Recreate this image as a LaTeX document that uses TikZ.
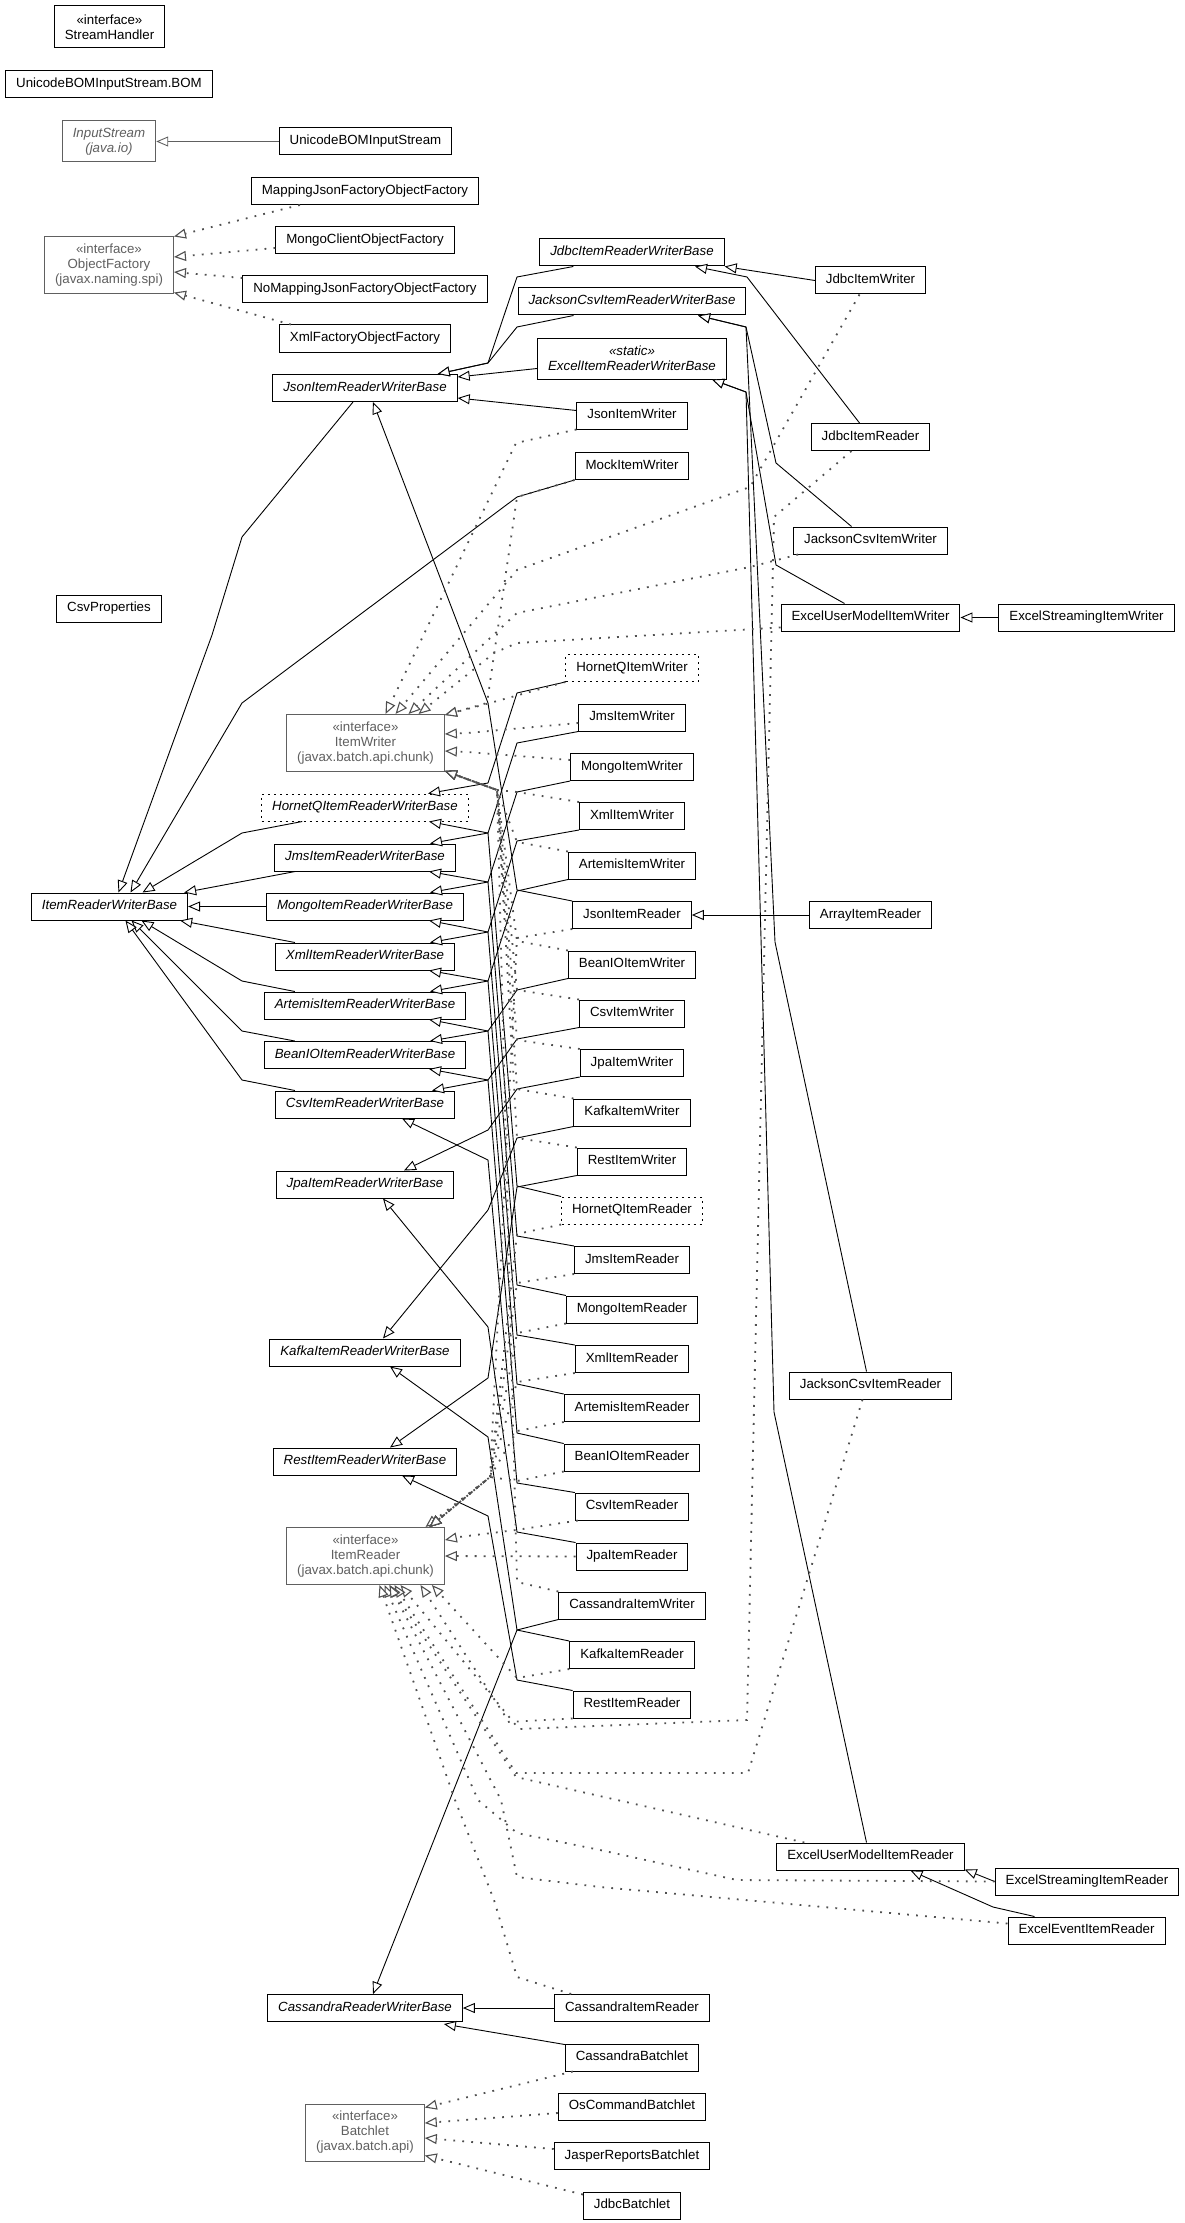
\documentclass[tikz,border=0pt]{standalone}
\usepackage{fontspec}
\setmainfont{Liberation Sans}
\usetikzlibrary{arrows.meta,calc}
\definecolor{extgray}{HTML}{606060}
\definecolor{implgray}{HTML}{505050}
\newcommand{\umlfont}{\fontsize{13.3}{15}\selectfont}

\begin{document}
\begin{tikzpicture}[
    x=1pt, y=-1pt,
    >={Triangle[fill=white, length=12pt, width=10pt]},
    uml/.style={
        draw=black, line width=1pt, fill=white, font=\umlfont,
        inner xsep=10.5pt, inner ysep=0pt, align=center
    },
    cls/.style={uml, minimum height=27pt, text height=9.6pt, text depth=2.8pt},
    abscls/.style={cls, font=\umlfont\itshape},
    hqcls/.style={dash pattern=on 2pt off 4pt},
    iface/.style={uml, draw=extgray, text=extgray, minimum height=57pt},
    extends/.style={->, line width=0.9pt},
    impl/.style={
        -{Triangle[fill=white, length=12pt, width=10pt, line width=1.1pt]},
        draw=implgray, line width=1.8pt, dash pattern=on 1.8pt off 7.2pt
    },
]
  \useasboundingbox (0,0) rectangle (1184,2223);

  %––– Column 1 –––––––––––––––––––––––––––––––––––––––––––––
  \node (sh)   [uml, minimum height=42pt] at (109.5,27) {«interface»\\StreamHandler};
  \node (bom)  [cls] at (109,84.5) {UnicodeBOMInputStream.BOM};
  \node (ins)  [uml, draw=extgray, text=extgray, font=\umlfont\itshape,
                minimum height=41pt] at (109,141.5) {InputStream\\(java.io)};
  \node (objf) [iface] at (109,265.5) {«interface»\\ObjectFactory\\(javax.naming.spi)};
  \node (csvp) [cls] at (109,608.5) {CsvProperties};
  \node (irwb) [abscls] at (109.5,906.5) {ItemReaderWriterBase};

  %––– Column 2 –––––––––––––––––––––––––––––––––––––––––––––
  \node (ubis)   [cls] at (365.5,141.5) {UnicodeBOMInputStream};
  \node (mjof)   [cls] at (365,191) {MappingJsonFactoryObjectFactory};
  \node (mcof)   [cls] at (365,240.5) {MongoClientObjectFactory};
  \node (nmjof)  [cls] at (365,289.5) {NoMappingJsonFactoryObjectFactory};
  \node (xfof)   [cls] at (365,338.5) {XmlFactoryObjectFactory};
  \node (jsonb)  [abscls] at (365,388) {JsonItemReaderWriterBase};
  \node (iw)     [iface] at (365.5,743) {«interface»\\ItemWriter\\(javax.batch.api.chunk)};
  \node (hqb)    [abscls, hqcls] at (365,807.5) {HornetQItemReaderWriterBase};
  \node (jmsb)   [abscls] at (365,857.5) {JmsItemReaderWriterBase};
  \node (mongob) [abscls] at (365,906.5) {MongoItemReaderWriterBase};
  \node (xmlb)   [abscls] at (365,956.5) {XmlItemReaderWriterBase};
  \node (artb)   [abscls] at (365,1005.5) {ArtemisItemReaderWriterBase};
  \node (beanb)  [abscls] at (365,1055) {BeanIOItemReaderWriterBase};
  \node (csvb)   [abscls] at (365,1104.5) {CsvItemReaderWriterBase};
  \node (jpab)   [abscls] at (365,1184.5) {JpaItemReaderWriterBase};
  \node (kafb)   [abscls] at (365,1352.5) {KafkaItemReaderWriterBase};
  \node (restb)  [abscls] at (365,1461.5) {RestItemReaderWriterBase};
  \node (ir)     [iface] at (365.5,1556) {«interface»\\ItemReader\\(javax.batch.api.chunk)};
  \node (casb)   [abscls] at (365,2008) {CassandraReaderWriterBase};
  \node (bl)     [iface] at (365,2132.5) {«interface»\\Batchlet\\(javax.batch.api)};

  %––– Column 3 –––––––––––––––––––––––––––––––––––––––––––––
  \node (jdbcb)  [abscls] at (632,252.5) {JdbcItemReaderWriterBase};
  \node (jcsvb)  [abscls] at (632,301.5) {JacksonCsvItemReaderWriterBase};
  \node (excelb) [uml, font=\umlfont\itshape, minimum height=41pt]
                 at (632,358.5) {«static»\\ExcelItemReaderWriterBase};
  \node (jsonw)  [cls] at (632,415.5) {JsonItemWriter};
  \node (mockw)  [cls] at (632,466) {MockItemWriter};
  \node (hqw)    [cls, hqcls] at (632,668) {HornetQItemWriter};
  \node (jmsw)   [cls] at (632,717.5) {JmsItemWriter};
  \node (mongow) [cls] at (632,767) {MongoItemWriter};
  \node (xmlw)   [cls] at (632,816) {XmlItemWriter};
  \node (artw)   [cls] at (632,865.5) {ArtemisItemWriter};
  \node (jsonr)  [cls] at (632,915) {JsonItemReader};
  \node (beanw)  [cls] at (632,964.5) {BeanIOItemWriter};
  \node (csvw)   [cls] at (632,1013.5) {CsvItemWriter};
  \node (jpaw)   [cls] at (632,1063) {JpaItemWriter};
  \node (kafw)   [cls] at (632,1112.5) {KafkaItemWriter};
  \node (restw)  [cls] at (632,1161.5) {RestItemWriter};
  \node (hqr)    [cls, hqcls] at (632,1210.5) {HornetQItemReader};
  \node (jmsr)   [cls] at (632,1260) {JmsItemReader};
  \node (mongor) [cls] at (632,1309.5) {MongoItemReader};
  \node (xmlr)   [cls] at (632,1359) {XmlItemReader};
  \node (artr)   [cls] at (632,1408) {ArtemisItemReader};
  \node (beanr)  [cls] at (632,1457.5) {BeanIOItemReader};
  \node (csvr)   [cls] at (632,1506.5) {CsvItemReader};
  \node (jpar)   [cls] at (632,1556.5) {JpaItemReader};
  \node (casw)   [cls] at (632,1605.5) {CassandraItemWriter};
  \node (kafr)   [cls] at (632,1655) {KafkaItemReader};
  \node (restr)  [cls] at (632,1704.5) {RestItemReader};
  \node (casr)   [cls] at (632,2008) {CassandraItemReader};
  \node (casbl)  [cls] at (632,2057.5) {CassandraBatchlet};
  \node (osbl)   [cls] at (632,2106.5) {OsCommandBatchlet};
  \node (jrbl)   [cls] at (632,2156) {JasperReportsBatchlet};
  \node (jdbcbl) [cls] at (632,2205.5) {JdbcBatchlet};

  %––– Columns 4 and 5 ––––––––––––––––––––––––––––––––––––––
  \node (jdbcw) [cls] at (870.5,280.5) {JdbcItemWriter};
  \node (jdbcr) [cls] at (870.5,437) {JdbcItemReader};
  \node (jcsvw) [cls] at (870.5,540.5) {JacksonCsvItemWriter};
  \node (eumw)  [cls] at (870.5,617.5) {ExcelUserModelItemWriter};
  \node (arrr)  [cls] at (870.5,915) {ArrayItemReader};
  \node (jcsvr) [cls] at (870.5,1385.5) {JacksonCsvItemReader};
  \node (eumr)  [cls] at (870.5,1856.5) {ExcelUserModelItemReader};
  \node (esw)   [cls] at (1086.5,617.5) {ExcelStreamingItemWriter};
  \node (esr)   [cls] at (1087,1881.5) {ExcelStreamingItemReader};
  \node (eer)   [cls] at (1086.5,1930.5) {ExcelEventItemReader};

  %––– Generalisations ––––––––––––––––––––––––––––––––––––––
  \draw[extends, draw=extgray] (ubis) -- (ins);
  \draw[extends] (jdbcw.west) -- (jdbcb.south east);
  \draw[extends] ($(jdbcr.north)+(-11,0)$) -- (747,277) -- ($(jdbcb.south)+(63,0)$);
  \draw[extends] ($(jdbcb.south west)+(34,0)$) -- (517,277) -- (488,363) -- ($(jsonb.north east)+(-20,0)$);
  \draw[extends] ($(jcsvb.south west)+(56,0)$) -- (517,327) -- (488,363) -- ($(jsonb.north east)+(-20,0)$);
  \draw[extends] ($(excelb.west)+(0,10)$) -- ($(jsonb.east)+(0,-11)$);
  \draw[extends] ($(jsonw.west)+(0,-5)$) -- ($(jsonb.east)+(0,10)$);
  \draw[extends] ($(jcsvw.north)+(-19,0)$) -- (776,463) -- (746,327) -- ($(jcsvb.south)+(66,0)$);
  \draw[extends] ($(jcsvr.north)+(-4,0)$) -- (775,942) -- (746,327) -- ($(jcsvb.south)+(66,0)$);
  \draw[extends] ($(eumw.north)+(-26,0)$) -- (776,565) -- (746,392) -- ($(excelb.south)+(80,0)$);
  \draw[extends] ($(eumr.north)+(-4,0)$) -- (774,1412) -- (746,392) -- ($(excelb.south)+(80,0)$);
  \draw[extends] (esw) -- (eumw);
  \draw[extends] (arrr) -- (jsonr);
  \draw[extends] (esr.west) -- ($(eumr.east)+(0,13)$);
  \draw[extends] ($(eer.north)+(-52,0)$) -- (993,1907) -- ($(eumr.south)+(40,0)$);

  % bases -> ItemReaderWriterBase
  \draw[extends] ($(jsonb.south)+(-12,0)$) -- (242,537) -- (212,635) -- ($(irwb.north)+(9,0)$);
  \draw[extends] (mockw.south west) -- (517,497) -- (242,703) -- ($(irwb.north)+(21,0)$);
  \draw[extends] ($(hqb.south west)+(41,0)$) -- (242,833) -- ($(irwb.north)+(33,0)$);
  \draw[extends] ($(jmsb.south west)+(21,0)$) -- ($(irwb.north east)+(-4,0)$);
  \draw[extends] (mongob) -- (irwb);
  \draw[extends] ($(xmlb.north west)+(20,0)$) -- ($(irwb.south east)+(-8,0)$);
  \draw[extends] ($(artb.north west)+(31,0)$) -- (242,981) -- ($(irwb.south)+(32,0)$);
  \draw[extends] ($(beanb.north west)+(31,0)$) -- (242,1031) -- ($(irwb.south)+(22,0)$);
  \draw[extends] ($(csvb.north west)+(20,0)$) -- (242,1080) -- ($(irwb.south)+(16,0)$);

  % writers -> bases
  \draw[extends] (hqw.south west) -- (517,693) -- (488,783) -- ($(hqb.north)+(63,0)$);
  \draw[extends] (jmsw.south west) -- (517,743) -- (488,833) -- ($(jmsb.north)+(65,0)$);
  \draw[extends] (mongow.south west) -- (517,792) -- (488,882) -- ($(mongob.north)+(65,0)$);
  \draw[extends] (xmlw.south west) -- (517,841) -- (488,932) -- ($(xmlb.north)+(65,0)$);
  \draw[extends] (artw.south west) -- (517,891) -- (488,981) -- ($(artb.north)+(65,0)$);
  \draw[extends] (beanw.south west) -- (517,990) -- (488,1031) -- ($(beanb.north)+(65,0)$);
  \draw[extends] (csvw.south west) -- (517,1039) -- (488,1080) -- ($(csvb.north)+(67,0)$);
  \draw[extends] (jpaw.south west) -- (517,1089) -- (488,1130) -- ($(jpab.north)+(39,0)$);
  \draw[extends] (kafw.south west) -- (517,1138) -- (488,1210) -- ($(kafb.north)+(18,0)$);
  \draw[extends] (restw.south west) -- (517,1187) -- (488,1378) -- ($(restb.north)+(25,0)$);
  \draw[extends] (casw.south west) -- (517,1630) -- ($(casb.north)+(8,0)$);

  % readers -> bases
  \draw[extends] (jsonr.north west) -- (517,890) -- (488,703) -- ($(jsonb.south)+(8,0)$);
  \draw[extends] (hqr.north west) -- (517,1186) -- (488,833) -- ($(hqb.south)+(64,0)$);
  \draw[extends] (jmsr.north west) -- (517,1236) -- (488,882) -- ($(jmsb.south)+(64,0)$);
  \draw[extends] (mongor.north west) -- (517,1285) -- (488,932) -- ($(mongob.south)+(64,0)$);
  \draw[extends] (xmlr.north west) -- (517,1335) -- (488,981) -- ($(xmlb.south)+(64,0)$);
  \draw[extends] (artr.north west) -- (517,1384) -- (488,1031) -- ($(artb.south)+(64,0)$);
  \draw[extends] (beanr.north west) -- (517,1433) -- (488,1080) -- ($(beanb.south)+(64,0)$);
  \draw[extends] (csvr.north west) -- (517,1483) -- (488,1160) -- ($(csvb.south)+(37,0)$);
  \draw[extends] (jpar.north west) -- (517,1532) -- (488,1327) -- ($(jpab.south)+(18,0)$);
  \draw[extends] (kafr.north west) -- (517,1630) -- (488,1437) -- ($(kafb.south)+(25,0)$);
  \draw[extends] (restr.north west) -- (517,1680) -- (488,1516) -- ($(restb.south)+(37,0)$);
  \draw[extends] (casr) -- (casb);
  \draw[extends] ($(casbl.north west)+(0,1)$) -- ($(casb.south east)+(-19,2)$);

  %––– Realisations –––––––––––––––––––––––––––––––––––––––––
  \draw[impl] ($(mjof.south west)+(49,0)$) -- (objf.north east);
  \draw[impl] ($(mcof.west)+(0,7.5)$) -- ($(objf.east)+(0,-8.5)$);
  \draw[impl] ($(nmjof.west)+(0,-11.5)$) -- ($(objf.east)+(0,6.5)$);
  \draw[impl] ($(xfof.north west)+(12,0)$) -- ($(objf.south east)+(0,-2)$);

  % ItemWriter
  \draw[impl] (jsonw.south west) -- (516,443) -- ($(iw.north)+(20,0)$);
  \draw[impl] ($(jdbcw.south)+(-11,0)$) -- (750,487) -- (517,570) -- ($(iw.north)+(30,0)$);
  \draw[impl] ($(jcsvw.south west)+(5,0)$) -- (750,567) -- (517,613) -- ($(iw.north)+(43,0)$);
  \draw[impl] ($(eumw.south west)+(0,-4)$) -- (517,643) -- (494,653) -- ($(iw.north)+(53,0)$);
  \draw[impl] (mockw.south west) -- (517,497) -- (487,703) -- ($(iw.north east)+(0,1)$);
  \draw[impl] (hqw.south west) -- (490,703) -- ($(iw.north east)+(0,1)$);
  \draw[impl] ($(jmsw.west)+(0,5.5)$) -- (467,733) -- ($(iw.east)+(0,-9)$);
  \draw[impl] ($(mongow.west)+(0,-7)$) -- (467,752) -- ($(iw.east)+(0,8)$);
  \draw[impl] (xmlw.north west) -- (517,792) -- (497,790) -- ($(iw.south east)+(0,-1)$);
  \draw[impl] (artw.north west) -- (517,842) -- (497,790) -- ($(iw.south east)+(0,-1)$);
  \draw[impl] (beanw.north west) -- (517,941) -- (497,790) -- ($(iw.south east)+(0,-1)$);
  \draw[impl] (csvw.north west) -- (517,990) -- (497,790) -- ($(iw.south east)+(0,-1)$);
  \draw[impl] (jpaw.north west) -- (517,1040) -- (497,790) -- ($(iw.south east)+(0,-1)$);
  \draw[impl] (kafw.north west) -- (517,1089) -- (497,790) -- ($(iw.south east)+(0,-1)$);
  \draw[impl] (restw.north west) -- (517,1138) -- (497,790) -- ($(iw.south east)+(0,-1)$);
  \draw[impl] (casw.north west) -- (517,1582) -- (497,790) -- ($(iw.south east)+(0,-1)$);

  % ItemReader
  \draw[impl] (jsonr.south west) -- (517,938) -- (490,1477) -- ($(ir.north)+(60,0)$);
  \draw[impl] (hqr.south west) -- (517,1234) -- (490,1477) -- ($(ir.north)+(64,0)$);
  \draw[impl] (jmsr.south west) -- (517,1283) -- (490,1477) -- ($(ir.north)+(64,0)$);
  \draw[impl] (mongor.south west) -- (517,1333) -- (490,1477) -- ($(ir.north)+(64,0)$);
  \draw[impl] (xmlr.south west) -- (517,1382) -- (490,1477) -- ($(ir.north)+(64,0)$);
  \draw[impl] (artr.south west) -- (517,1431) -- (490,1477) -- ($(ir.north)+(64,0)$);
  \draw[impl] (beanr.south west) -- (517,1481) -- (490,1477) -- ($(ir.north)+(64,0)$);
  \draw[impl] ($(csvr.south west)+(3,0)$) -- (516,1530) -- (459,1537) -- ($(ir.east)+(0,-16)$);
  \draw[impl] (jpar.west) -- (ir.east);
  \draw[impl] (kafr.south west) -- (517,1678) -- ($(ir.south east)+(-13,0)$);
  \draw[impl] (restr.south west) -- (509,1722) -- ($(ir.south)+(55,0)$);
  \draw[impl] ($(jdbcr.south)+(-19,0)$) -- (774,517) -- (747,1720) -- (519,1729) -- ($(ir.south)+(35,0)$);
  \draw[impl] ($(jcsvr.south)+(-8,0)$) -- (748,1773) -- (516,1773) -- ($(ir.south)+(29,0)$);
  \draw[impl] ($(eumr.north west)+(28,0)$) -- (516,1777) -- ($(ir.south)+(24,0)$);
  \draw[impl] (esr.west) -- (737,1880) -- (600,1850) -- (517,1833) -- (478,1800) -- ($(ir.south)+(19,0)$);
  \draw[impl] ($(eer.west)+(0,-7)$) -- (600,1887) -- (517,1877) -- (501,1800) -- ($(ir.south)+(24,0)$);
  \draw[impl] ($(casr.north west)+(17,0)$) -- (517,1977) -- (494,1900) -- (455,1800) -- ($(ir.south)+(14,0)$);

  % Batchlet
  \draw[impl] ($(casbl.south west)+(8,0)$) -- ($(bl.north east)+(0,4)$);
  \draw[impl] ($(osbl.west)+(0,6.5)$) -- ($(bl.east)+(0,-9.5)$);
  \draw[impl] ($(jrbl.west)+(0,-7)$) -- ($(bl.east)+(0,5.5)$);
  \draw[impl] ($(jdbcbl.north west)+(0,3)$) -- ($(bl.south east)+(0,-6)$);
\end{tikzpicture}
\end{document}
